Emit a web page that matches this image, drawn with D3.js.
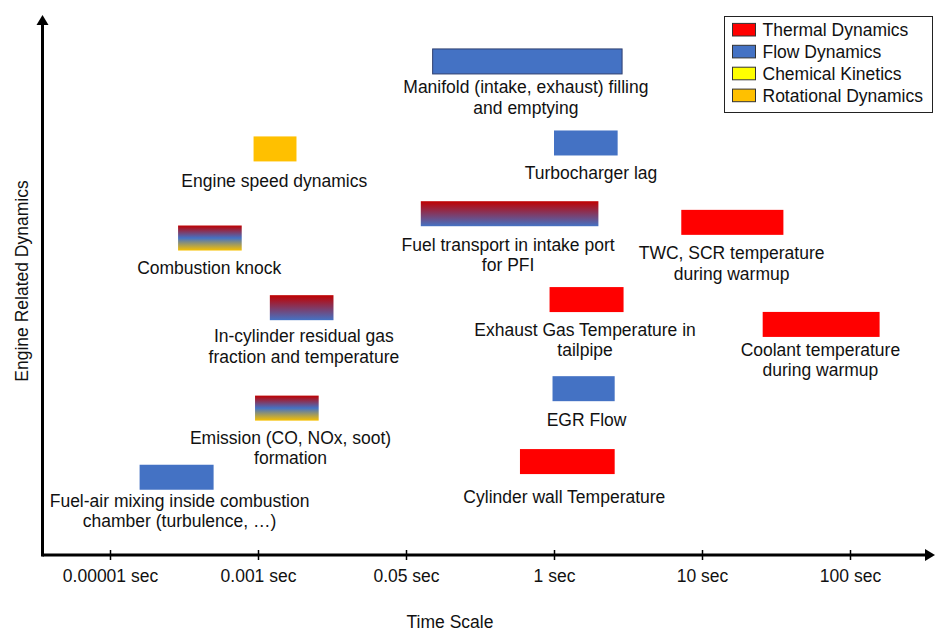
<!DOCTYPE html>
<html>
<head>
<meta charset="utf-8">
<script src="https://cdn.jsdelivr.net/npm/d3@7"></script>
<style>
    body { margin: 0; background: #fff; }
    text { font-family: "Liberation Sans", Arial, sans-serif; font-size: 17.5px; fill: #111; }
</style>
</head>
<body>
<div id="chart"></div>
<script>
// Tick labels of the (ordinal-like) time axis
const tickLabels = ["0.00001 sec", "0.001 sec", "0.05 sec", "1 sec", "10 sec", "100 sec"];

// Legend categories
const categories = ["Thermal Dynamics", "Flow Dynamics", "Chemical Kinetics", "Rotational Dynamics"];
const categoryColors = ["#ff0000", "#4472c4", "#ffff00", "#ffc000"];

// Processes: label lines, time span (in tick units), vertical level, categories involved
const processLabels = [
    ["Manifold (intake, exhaust) filling", "and emptying"],
    ["Turbocharger lag"],
    ["Engine speed dynamics"],
    ["Fuel transport in intake port", "for PFI"],
    ["TWC, SCR temperature", "during warmup"],
    ["Combustion knock"],
    ["In-cylinder residual gas", "fraction and temperature"],
    ["Exhaust Gas Temperature in", "tailpipe"],
    ["Coolant temperature", "during warmup"],
    ["EGR Flow"],
    ["Emission (CO, NOx, soot)", "formation"],
    ["Cylinder wall Temperature"],
    ["Fuel-air mixing inside combustion", "chamber (turbulence, \u2026)"]
];
const processStart = [2.18, 3.00, 0.97, 2.10, 3.86, 0.46, 1.08, 2.97, 4.41, 2.99, 0.98, 2.77, 0.20];
const processEnd   = [3.46, 3.43, 1.26, 3.30, 4.55, 0.89, 1.51, 3.47, 5.20, 3.41, 1.41, 3.41, 0.70];
const processLevel = [9.14, 7.63, 7.52, 6.32, 6.16, 5.87, 4.58, 4.73, 4.27, 3.08, 2.72, 1.73, 1.44];
const processKinds = [[1], [1], [3], [0, 1], [0], [0, 1, 2], [0, 1], [0], [0], [1], [0, 1, 2], [0], [1]];

// Where each label sits (tick units, level of first baseline)
const labelTime  = [2.81, 3.25, 1.11, 2.69, 4.20, 0.67, 1.31, 3.21, 4.80, 3.22, 1.22, 3.07, 0.47];
const labelLevel = [8.55, 6.96, 6.82, 5.63, 5.48, 5.20, 3.94, 4.06, 3.69, 2.39, 2.06, 0.96, 0.89];

const W = 935, H = 633;
const frame = {left: 42.5, right: 935, top: 15, bottom: 555};
const barHeight = 25;
const lineGap = 20.5;

// gradient stop colours used for mixed bars (top -> bottom)
const mixColors = ["#c00000", "#4472c4", "#f7c000"];

const svg = d3.select("#chart")
    .append("svg")
    .attr("width", W)
    .attr("height", H);

const x = d3.scaleLinear()
    .domain([0, tickLabels.length - 1])
    .range([110, 850]);

const y = d3.scaleLinear()
    .domain([0, 10])
    .range([frame.bottom, frame.top]);

const defs = svg.append("defs");

defs.append("marker")
    .attr("id", "arrow")
    .attr("markerUnits", "userSpaceOnUse")
    .attr("markerWidth", 12)
    .attr("markerHeight", 14)
    .attr("viewBox", "0 -7 12 14")
    .attr("refX", 0)
    .attr("refY", 0)
    .attr("orient", "auto")
    .append("path")
    .attr("d", "M0,-6L10,0L0,6Z")
    .attr("fill", "#000");

// Gradients for bars that span several kinds of dynamics
processKinds.forEach((kinds, i) => {
    if (kinds.length < 2) return;
    const g = defs.append("linearGradient")
        .attr("id", `grad${i}`)
        .attr("x1", 0).attr("y1", 0)
        .attr("x2", 0).attr("y2", 1);
    kinds.forEach((k, j) => {
        g.append("stop")
            .attr("offset", `${(j / (kinds.length - 1)) * 100}%`)
            .attr("stop-color", mixColors[k]);
    });
});

// Bars
svg.append("g")
    .selectAll("rect")
    .data(processLabels)
    .join("rect")
    .attr("x", (d, i) => x(processStart[i]))
    .attr("y", (d, i) => y(processLevel[i]) - barHeight / 2)
    .attr("width", (d, i) => x(processEnd[i]) - x(processStart[i]))
    .attr("height", barHeight)
    .attr("fill", (d, i) => processKinds[i].length > 1 ? `url(#grad${i})` : categoryColors[processKinds[i][0]])
    .attr("stroke", (d, i) => i === 0 ? "#2f3f6f" : "none")
    .attr("stroke-width", 1);

// Labels
const labels = svg.append("g")
    .selectAll("text")
    .data(processLabels)
    .join("text")
    .attr("text-anchor", "middle")
    .attr("x", (d, i) => x(labelTime[i]))
    .attr("y", (d, i) => y(labelLevel[i]));

labels.selectAll("tspan")
    .data(d => d)
    .join("tspan")
    .attr("x", function () { return this.parentNode.getAttribute("x"); })
    .attr("dy", (d, j) => j === 0 ? 0 : lineGap)
    .text(d => d);

// Axes
svg.append("line")
    .attr("x1", frame.left).attr("y1", frame.bottom)
    .attr("x2", frame.right - 10).attr("y2", frame.bottom)
    .attr("stroke", "#000").attr("stroke-width", 3)
    .attr("marker-end", "url(#arrow)");

svg.append("line")
    .attr("x1", frame.left).attr("y1", frame.bottom + 1.5)
    .attr("x2", frame.left).attr("y2", frame.top + 10)
    .attr("stroke", "#000").attr("stroke-width", 3)
    .attr("marker-end", "url(#arrow)");

const xAxis = svg.append("g")
    .attr("transform", `translate(0,${frame.bottom})`)
    .call(d3.axisBottom(x)
        .tickValues(d3.range(tickLabels.length))
        .tickFormat(i => tickLabels[i])
        .tickSize(5)
        .tickPadding(10));

xAxis.select(".domain").remove();
xAxis.selectAll(".tick line")
    .attr("y1", -5)
    .attr("y2", 5)
    .attr("stroke", "#000")
    .attr("stroke-width", 1.5);
xAxis.selectAll(".tick text")
    .attr("font-family", null)
    .attr("font-size", null)
    .attr("fill", null)
    .attr("y", 27)
    .attr("dy", 0);
xAxis.attr("font-family", null).attr("font-size", null);

// Axis titles
svg.append("text")
    .attr("text-anchor", "middle")
    .attr("x", 450)
    .attr("y", 628)
    .text("Time Scale");

svg.append("text")
    .attr("text-anchor", "middle")
    .attr("transform", "rotate(-90)")
    .attr("x", -281)
    .attr("y", 28)
    .text("Engine Related Dynamics");

// Legend
const legend = svg.append("g").attr("transform", "translate(724,16)");
legend.append("rect")
    .attr("x", 0.5).attr("y", 0.5)
    .attr("width", 208).attr("height", 96)
    .attr("fill", "#fff")
    .attr("stroke", "#222");

const legendItems = legend.selectAll("g.item")
    .data(categories)
    .join("g")
    .attr("class", "item")
    .attr("transform", (d, i) => `translate(0,${13.7 + i * 21.9})`);

legendItems.append("rect")
    .attr("x", 8.5).attr("y", -6.3)
    .attr("width", 23).attr("height", 12.6)
    .attr("fill", (d, i) => categoryColors[i])
    .attr("stroke", "#333");

legendItems.append("text")
    .attr("x", 38.5)
    .attr("y", 6.3)
    .text(d => d);
</script>
</body>
</html>
